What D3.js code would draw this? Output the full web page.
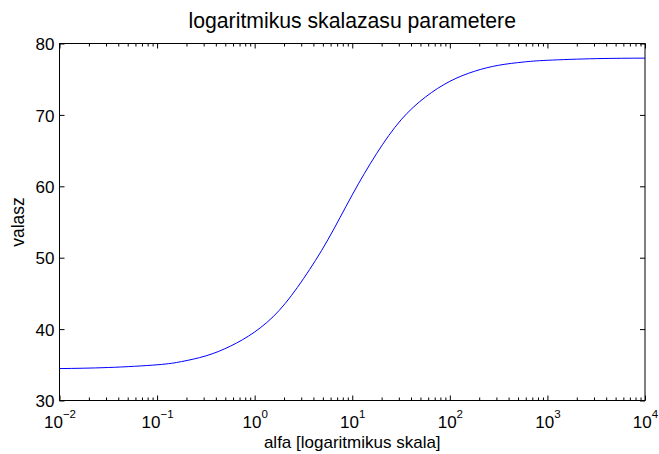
<!DOCTYPE html>
<html lang="hu">
<head>
  <meta charset="UTF-8">
  <title>logaritmikus skalazasu parametere</title>
  <style>
    body {
      margin: 0;
      background: #fff;
    }
    text {
      font-family: "Liberation Sans", Arial, sans-serif;
      fill: #000;
    }
    .tick line {
      stroke: #000;
    }
  </style>
</head>
<body>
<div id="chart"></div>
<script src="https://d3js.org/d3.v7.min.js"></script>
<script>

  // data
  var alphaValues = [0.01, 0.0316, 0.1, 0.178, 0.316, 0.562, 1, 1.78, 3.16, 5.62,
                     10, 17.8, 31.6, 56.2, 100, 178, 316, 562, 1000, 3162, 10000];
  var valaszValues = [34.47, 34.62, 35.0, 35.45, 36.25, 37.6, 39.6, 42.6, 47.05, 52.5,
                      58.8, 64.6, 69.3, 72.5, 74.7, 76.1, 76.95, 77.4, 77.65, 77.88, 77.95];

  var xTickExponents = [-2, -1, 0, 1, 2, 3, 4];
  var yTickValues = [30, 40, 50, 60, 70, 80];

  var titleText = "logaritmikus skalazasu parametere";
  var xLabelText = "alfa [logaritmikus skala]";
  var yLabelText = "valasz";

  // size
  var w = 659;
  var h = 454;
  var plot = {left: 59.5, right: 645, top: 43.5, bottom: 400.5};

  var svg = d3.select("#chart")
          .append("svg")
          .attr("width", w)
          .attr("height", h);

  svg.append("rect")
          .attr("width", w)
          .attr("height", h)
          .attr("fill", "#fff");

  // scales
  var xScale = d3.scaleLog()
          .domain([1e-2, 1e4])
          .range([plot.left, plot.right]);

  var yScale = d3.scaleLinear()
          .domain([30, 80])
          .range([plot.bottom, plot.top]);

  var majorX = xTickExponents.map(e => Math.pow(10, e));
  var minorX = [];
  xTickExponents.slice(0, -1).forEach(function(e) {
    for (var m = 2; m <= 9; m++) minorX.push(m * Math.pow(10, e));
  });

  // frame
  svg.append("rect")
          .attr("x", plot.left)
          .attr("y", plot.top)
          .attr("width", plot.right - plot.left)
          .attr("height", plot.bottom - plot.top)
          .attr("fill", "none")
          .attr("stroke", "#000")
          .attr("stroke-width", 1);

  // ticks on all four sides, pointing inward
  function addAxis(axis, tx, ty) {
    var g = svg.append("g")
            .attr("transform", `translate(${tx}, ${ty})`)
            .call(axis);
    g.select(".domain").remove();
    return g;
  }

  var xBottom = addAxis(d3.axisBottom(xScale).tickValues(majorX).tickSize(-5).tickSizeOuter(0).tickFormat(""), 0, plot.bottom);
  addAxis(d3.axisBottom(xScale).tickValues(minorX).tickSize(-3).tickSizeOuter(0).tickFormat(""), 0, plot.bottom);
  addAxis(d3.axisTop(xScale).tickValues(majorX).tickSize(-5).tickSizeOuter(0).tickFormat(""), 0, plot.top);
  addAxis(d3.axisTop(xScale).tickValues(minorX).tickSize(-3).tickSizeOuter(0).tickFormat(""), 0, plot.top);
  var yLeft = addAxis(d3.axisLeft(yScale).tickValues(yTickValues).tickSize(-5).tickSizeOuter(0).tickFormat(d3.format("d")), plot.left, 0);
  addAxis(d3.axisRight(yScale).tickValues(yTickValues).tickSize(-5).tickSizeOuter(0).tickFormat(""), plot.right, 0);

  // y tick labels
  yLeft.selectAll(".tick text")
          .attr("x", -5)
          .attr("dy", "0.36em")
          .style("font-size", "17px")
          .attr("text-anchor", "end");

  // x tick labels as 10 with superscript
  xBottom.selectAll(".tick").each(function(d) {
    var t = d3.select(this).select("text");
    t.text(null)
            .attr("y", 27.5)
            .attr("dy", 0)
            .attr("text-anchor", "middle")
            .style("font-size", "17px");
    t.append("tspan").text("10");
    t.append("tspan")
            .attr("dy", -10.5)
            .style("font-size", "11.5px")
            .text(String(Math.round(Math.log10(d))).replace("-", "\u2212"));
  });

  // curve
  var line = d3.line()
          .x((d, i) => xScale(alphaValues[i]))
          .y(d => yScale(d))
          .curve(d3.curveNatural);

  svg.append("path")
          .datum(valaszValues)
          .attr("d", line)
          .attr("fill", "none")
          .attr("stroke", "#0000ff")
          .attr("stroke-width", 1);

  // title and labels
  svg.append("text")
          .attr("x", (plot.left + plot.right) / 2)
          .attr("y", 27.5)
          .attr("text-anchor", "middle")
          .style("font-size", "21.2px")
          .text(titleText);

  svg.append("text")
          .attr("x", (plot.left + plot.right) / 2)
          .attr("y", 447.5)
          .attr("text-anchor", "middle")
          .style("font-size", "17px")
          .text(xLabelText);

  svg.append("text")
          .attr("transform", `translate(24, ${(plot.top + plot.bottom) / 2}) rotate(-90)`)
          .attr("text-anchor", "middle")
          .style("font-size", "17.5px")
          .text(yLabelText);

</script>
</body>
</html>
